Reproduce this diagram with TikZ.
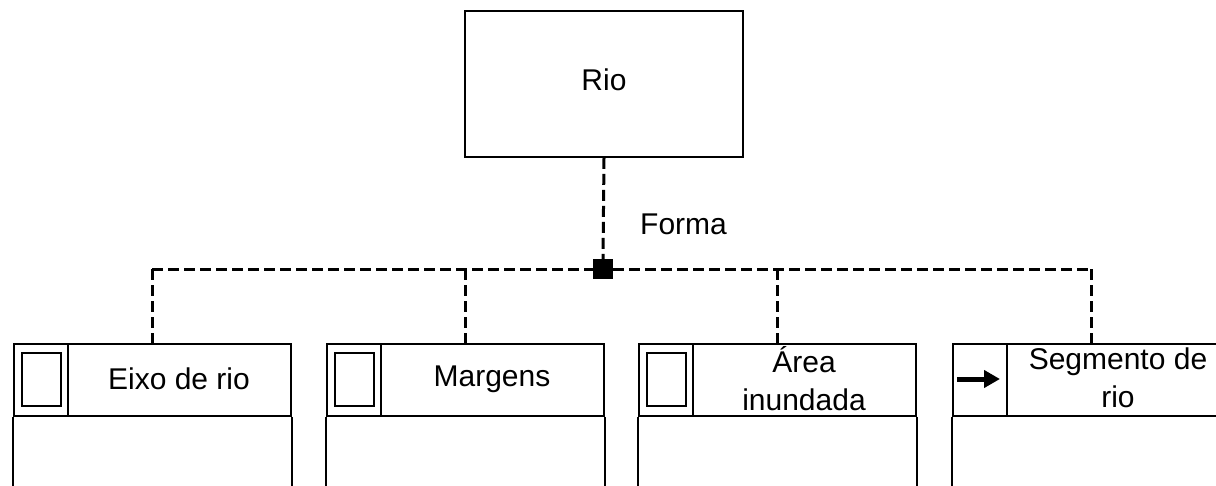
\documentclass[tikz,border=0pt]{standalone}
\usepackage{fontspec}
\setmainfont{Liberation Sans}
\usetikzlibrary{arrows.meta,calc}
\tikzset{
  boxline/.style={draw=black,line width=1.8pt},
  link/.style={draw=black,line width=3pt,dash pattern=on 11pt off 5pt},
  header/.style={boxline,minimum width=277pt,minimum height=72pt,inner sep=0pt,anchor=north west},
  label/.style={font=\fontsize{30}{38}\selectfont,align=center,inner sep=0pt},
}
\begin{document}
\begin{tikzpicture}[x=1pt,y=-1pt]
\useasboundingbox (0,0) rectangle (1216,485);
\clip (0,0) rectangle (1216,485);
% top class
\node[boxline,minimum width=278pt,minimum height=146pt,inner sep=0pt] (rio) at (604,84) {};
\node[label] (riotext) at (604,80) {Rio};
% junction
\node[fill=black,minimum size=20pt,inner sep=0pt] (junc) at (603,269) {};
\node[label,anchor=west] (forma) at (640,224) {Forma};
% child headers
\foreach \n/\l in {h1/13,h2/326,h3/638,h4/952}{
  \node[header] (\n) at (\l,343) {};
  \draw[boxline] (\n.south west) -- ++(0,120);
  \draw[boxline] (\n.south east) -- ++(0,120);
  \draw[boxline] ($(\n.north west)+(55,0)$) coordinate (\n d) -- (\n d |- \n.south);
}
% icons
\foreach \n in {h1,h2,h3}{
  \draw[boxline] ($(\n.north west)+(9,10)$) rectangle ($(\n.north west)+(48,63)$);
}
\coordinate (a1) at ($(h4.north west)+(5,36)$);
\coordinate (a2) at ($(h4.north west)+(48,36)$);
\draw[line width=5pt,-{Triangle[length=16pt,width=17pt]}] (a1) -- (a2);
% labels
\node[label] (t1) at (179,379) {Eixo de rio};
\node[label] (t2) at (492,379) {Margens};
\node[label] (t3) at (804,379) {Área\\inundada};
\node[label] (t4) at (1118,378) {Segmento de\\rio};
% connectors
\draw[link] (rio.south) -- (junc.north);
\draw[link] (h1.north |- junc) -- (junc.west);
\draw[link] (junc.east) -- (h4.north |- junc);
\foreach \n in {h1,h2,h3,h4}{
  \draw[link] (\n.north |- junc) -- (\n.north);
}
\end{tikzpicture}
\end{document}
